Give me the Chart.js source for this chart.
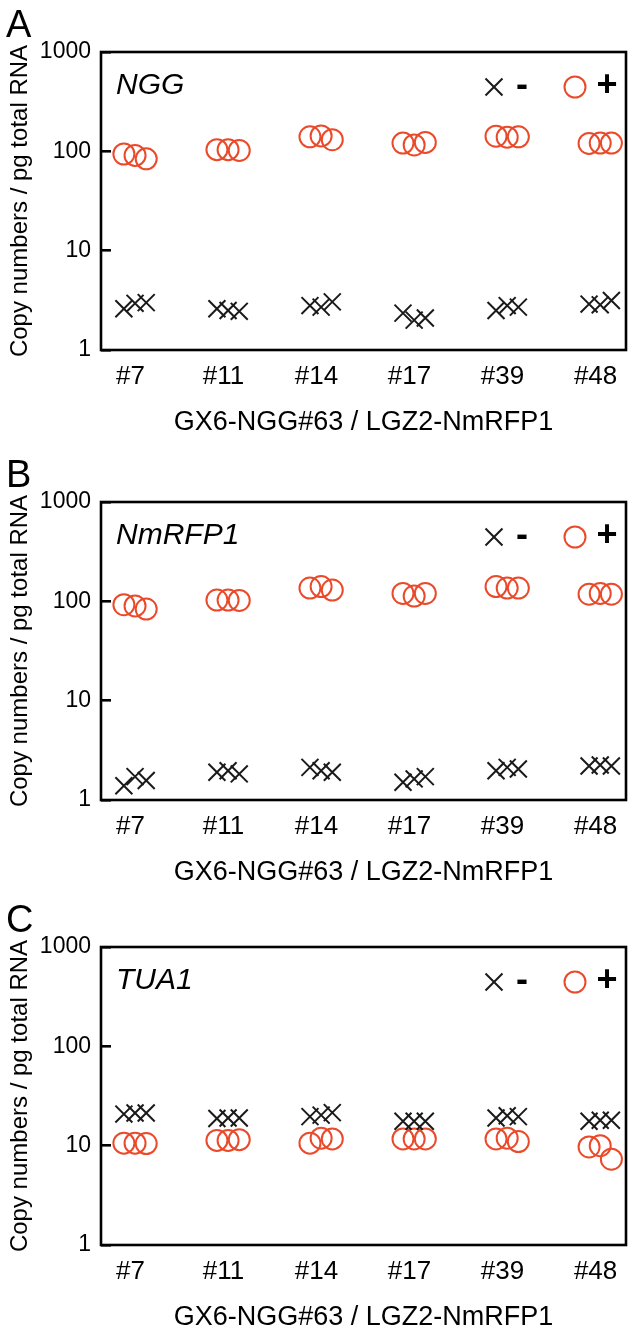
<!DOCTYPE html>
<html>
<head>
<meta charset="utf-8">
<script src="https://cdn.jsdelivr.net/npm/chart.js@4/dist/chart.umd.min.js"></script>
<style>
  html, body { margin: 0; padding: 0; background: #fff; }
  body { width: 640px; height: 1332px; position: relative; overflow: hidden; }
  .panel { position: absolute; left: 0; width: 640px; height: 444px; }
</style>
</head>
<body>
<div class="panel" style="top:0px"><canvas id="cA" width="640" height="444"></canvas></div>
<div class="panel" style="top:450px"><canvas id="cB" width="640" height="444"></canvas></div>
<div class="panel" style="top:895px"><canvas id="cC" width="640" height="444"></canvas></div>
<script>
// ---------- data ----------
const categories = ['#7', '#11', '#14', '#17', '#39', '#48'];
const yTicks = [1, 10, 100, 1000];
const xTitle = 'GX6-NGG#63 / LGZ2-NmRFP1';
const yTitle = 'Copy numbers / pg total RNA';
const legendMinus = '-';
const legendPlus = '+';

// three replicates per category (left to right)
const nggMinus = [2.6, 2.95, 3.0,  2.6, 2.5, 2.45,  2.8, 2.7, 3.05,  2.35, 2.0, 2.1,  2.5, 2.8, 2.7,  2.9, 2.85, 3.15];
const nggPlus  = [94, 91, 84,  104, 104, 102,  140, 143, 131,  121, 116, 123,  142, 139, 140,  120, 121, 121];
const rfpMinus = [1.39, 1.72, 1.57,  1.9, 1.97, 1.83,  2.13, 1.97, 1.9,  1.51, 1.63, 1.72,  1.97, 2.13, 2.05,  2.2, 2.25, 2.2];
const rfpPlus  = [92.5, 90, 83.7,  103, 103, 102,  136, 141, 130,  120, 113, 120,  141, 136, 136,  118, 120, 118];
const tuaMinus = [20.8, 21.3, 21.3,  18.8, 19, 19,  19.6, 20.3, 21.5,  17.6, 17.6, 17.6,  19.0, 20.0, 19.6,  17.6, 18, 18];
const tuaPlus  = [10.6, 10.6, 10.5,  11.3, 11.3, 11.5,  10.6, 11.9, 11.7,  11.7, 11.7, 11.7,  11.7, 11.9, 11.0,  9.7, 10.0, 7.3];

// ---------- styling ----------
const FONT = '"Liberation Sans", Arial, Helvetica, sans-serif';
const RED = 'rgb(234, 74, 42)';
const BLACK = '#1a1a1a';
const replicateOffsets = [-0.07, 0.05, 0.17]; // horizontal jitter of the 3 replicates (category units)

function toPoints(values) {
  return values.map((v, k) => ({
    x: Math.floor(k / 3) + replicateOffsets[k % 3],
    y: v
  }));
}

const decor = {
  id: 'decor',
  afterDraw(chart, args, opts) {
    const { ctx, chartArea: a } = chart;
    ctx.save();
    // frame
    ctx.strokeStyle = '#000';
    ctx.lineWidth = 2.6;
    ctx.strokeRect(a.left, a.top, a.right - a.left, a.bottom - a.top);
    // panel letter
    ctx.fillStyle = '#000';
    ctx.textAlign = 'left';
    ctx.textBaseline = 'alphabetic';
    ctx.font = '38px ' + FONT;
    ctx.fillText(opts.letter, 6, 37);
    // gene name
    ctx.font = 'italic 30px ' + FONT;
    ctx.fillText(opts.gene, a.left + 15, a.top + 42);
    // legend
    const ly = a.top + 35;
    const dsM = chart.data.datasets[0], dsP = chart.data.datasets[1];
    ctx.strokeStyle = dsM.borderColor;
    ctx.lineWidth = dsM.borderWidth;
    Chart.helpers.drawPoint(ctx, { pointStyle: dsM.pointStyle, radius: dsM.pointRadius, borderWidth: dsM.borderWidth, rotation: 0 }, a.left + 393, ly);
    ctx.strokeStyle = dsP.borderColor;
    ctx.fillStyle = 'rgba(0,0,0,0)';
    ctx.lineWidth = dsP.borderWidth;
    Chart.helpers.drawPoint(ctx, { pointStyle: dsP.pointStyle, radius: dsP.pointRadius, borderWidth: dsP.borderWidth, rotation: 0 }, a.left + 474, ly);
    ctx.fillStyle = '#000';
    ctx.textAlign = 'center';
    ctx.textBaseline = 'middle';
    ctx.font = 'bold 36px ' + FONT;
    ctx.fillText(legendMinus, a.left + 421, ly - 1);
    ctx.fillText(legendPlus, a.left + 506, ly - 1);
    ctx.restore();
  }
};

function makePanel(id, letter, gene, minusVals, plusVals) {
  new Chart(document.getElementById(id), {
    type: 'scatter',
    data: {
      datasets: [
        {
          label: legendMinus,
          data: toPoints(minusVals),
          pointStyle: 'crossRot',
          pointRadius: 12,
          borderWidth: 2,
          borderColor: BLACK,
          backgroundColor: BLACK
        },
        {
          label: legendPlus,
          data: toPoints(plusVals),
          pointStyle: 'circle',
          pointRadius: 10.5,
          borderWidth: 2,
          borderColor: RED,
          backgroundColor: 'rgba(255,255,255,0)'
        }
      ]
    },
    options: {
      responsive: false,
      animation: false,
      events: [],
      layout: { padding: { top: 52, right: 12, left: 0, bottom: 0 } },
      plugins: {
        legend: { display: false },
        tooltip: { enabled: false },
        decor: { letter: letter, gene: gene }
      },
      scales: {
        x: {
          type: 'linear',
          position: 'bottom',
          min: -0.316,
          max: 5.327,
          afterBuildTicks: (s) => { s.ticks = categories.map((c, i) => ({ value: i })); },
          afterFit: (s) => { s.height = 94; },
          ticks: {
            autoSkip: false,
            maxRotation: 0,
            padding: 11,
            color: '#000',
            font: { family: FONT, size: 26 },
            callback: (v) => categories[v]
          },
          grid: { display: false, drawTicks: false },
          border: { display: false },
          title: {
            display: true,
            text: xTitle,
            color: '#000',
            font: { family: FONT, size: 27 },
            padding: { top: 0, bottom: 5 }
          }
        },
        y: {
          type: 'logarithmic',
          position: 'left',
          min: 1,
          max: 1000,
          afterBuildTicks: (s) => { s.ticks = yTicks.map(v => ({ value: v })); },
          afterFit: (s) => { s.width = 101; },
          ticks: {
            padding: 20,
            color: '#000',
            font: { family: FONT, size: 23 },
            callback: (v) => String(v)
          },
          grid: {
            display: true,
            drawOnChartArea: false,
            drawTicks: true,
            tickLength: -10,
            color: '#000',
            lineWidth: 2.6
          },
          border: { display: false },
          title: {
            display: true,
            text: yTitle,
            color: '#000',
            font: { family: FONT, size: 24 },
            padding: { top: 6, bottom: 0 }
          }
        }
      }
    },
    plugins: [decor]
  });
}

makePanel('cA', 'A', 'NGG', nggMinus, nggPlus);
makePanel('cB', 'B', 'NmRFP1', rfpMinus, rfpPlus);
makePanel('cC', 'C', 'TUA1', tuaMinus, tuaPlus);
</script>
</body>
</html>
